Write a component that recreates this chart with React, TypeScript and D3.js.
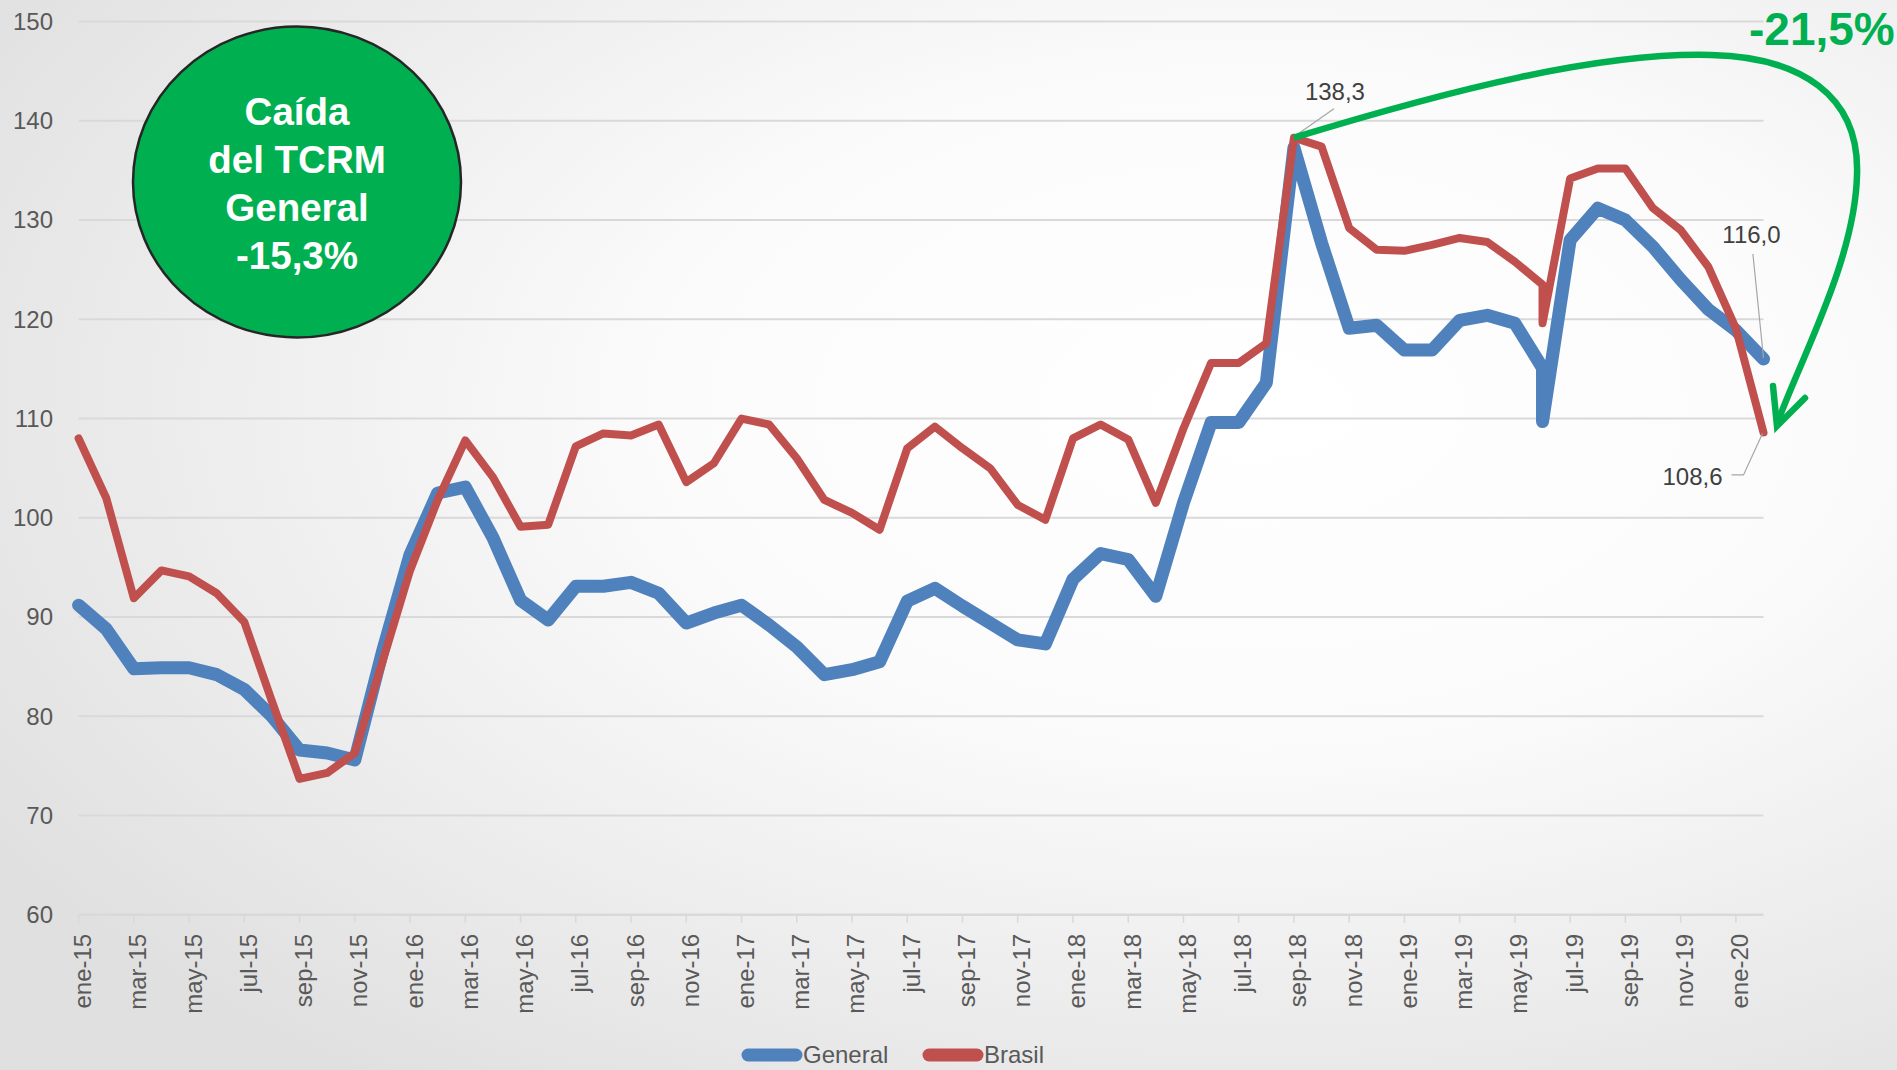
import React from "react";
import * as d3 from "d3";

// meses (etiquetas del eje). jun-19 aparece dos veces en la serie original
const meses = ["ene", "feb", "mar", "abr", "may", "jun", "jul", "ago", "sep", "oct", "nov", "dic"];

const periods = [
  "ene-15", "feb-15", "mar-15", "abr-15", "may-15", "jun-15", "jul-15", "ago-15", "sep-15", "oct-15", "nov-15", "dic-15",
  "ene-16", "feb-16", "mar-16", "abr-16", "may-16", "jun-16", "jul-16", "ago-16", "sep-16", "oct-16", "nov-16", "dic-16",
  "ene-17", "feb-17", "mar-17", "abr-17", "may-17", "jun-17", "jul-17", "ago-17", "sep-17", "oct-17", "nov-17", "dic-17",
  "ene-18", "feb-18", "mar-18", "abr-18", "may-18", "jun-18", "jul-18", "ago-18", "sep-18", "oct-18", "nov-18", "dic-18",
  "ene-19", "feb-19", "mar-19", "abr-19", "may-19", "jun-19", "jun-19", "jul-19", "ago-19", "sep-19", "oct-19", "nov-19", "dic-19",
  "ene-20", "feb-20",
];

const general = [
  91.2, 88.8, 84.8, 84.9, 84.9, 84.2, 82.7, 80.0, 76.6, 76.3, 75.6, 86.5,
  96.3, 102.5, 103.1, 98.0, 91.7, 89.7, 93.1, 93.1, 93.5, 92.4, 89.4, 90.4,
  91.2, 89.2, 87.0, 84.2, 84.7, 85.5, 91.6, 92.9, 91.1, 89.4, 87.7, 87.3,
  93.8, 96.4, 95.8, 92.1, 101.5, 109.6, 109.6, 113.6, 137.3, 127.7, 119.1, 119.4,
  116.9, 116.9, 119.9, 120.4, 119.6, 115.1, 109.7, 128.0, 131.2, 130.0, 127.3, 124.0, 121.0,
  118.9, 116.0,
];

const brasil = [
  108.0, 102.0, 91.9, 94.7, 94.1, 92.4, 89.5, 81.5, 73.7, 74.3, 76.3, 85.5,
  94.7, 101.8, 107.8, 104.1, 99.1, 99.3, 107.2, 108.5, 108.3, 109.4, 103.6, 105.5,
  110.0, 109.4, 106.0, 101.8, 100.5, 98.8, 107.0, 109.2, 107.0, 105.0, 101.3, 99.8,
  108.0, 109.4, 107.9, 101.5, 109.0, 115.6, 115.6, 117.6, 138.3, 137.4, 129.2, 127.0,
  126.9, 127.5, 128.2, 127.8, 125.8, 123.5, 119.6, 134.2, 135.2, 135.2, 131.2, 129.0, 125.3,
  119.1, 108.6,
];

const yTicks = [60, 70, 80, 90, 100, 110, 120, 130, 140, 150];
const seriesNames = ["General", "Brasil"];
const seriesColors = ["#4f81bd", "#c0504d"];

const W = 1897;
const H = 1070;
const font = "'Liberation Sans', Arial, sans-serif";

const monthNum = (p: string) => {
  const [m, yy] = p.split("-");
  return meses.indexOf(m) + (+yy - 15) * 12;
};

const App = () => {
  const x = d3.scaleLinear().domain([0, 61]).range([78.6, 1763.5]);
  const y = d3.scaleLinear().domain([60, 150]).range([914.8, 21.6]);

  const line = d3
    .line<number>()
    .x((_, i) => x(monthNum(periods[i])))
    .y((d) => y(d));

  // etiquetas cada dos meses
  const uniq = periods.filter((p, i) => periods.indexOf(p) === i);
  const xTicks = uniq.filter((p) => monthNum(p) % 2 === 0);

  const iPeak = brasil.indexOf(d3.max(brasil) as number);
  const pk = { x: x(monthNum(periods[iPeak])), y: y(brasil[iPeak]) };
  const last = periods.length - 1;
  const endX = x(monthNum(periods[last]));
  const gEnd = y(general[last]);
  const bEnd = y(brasil[last]);
  const fmt = (v: number) => v.toFixed(1).replace(".", ",");

  return (
    <svg width={W} height={H} style={{ position: "absolute", left: 0, top: 0 }}>
      <defs>
        <radialGradient id="bg" cx="66%" cy="38%" r="78%">
          <stop offset="0%" stopColor="#ffffff" />
          <stop offset="40%" stopColor="#fbfbfb" />
          <stop offset="100%" stopColor="#e0e0e0" />
        </radialGradient>
      </defs>
      <rect width={W} height={H} fill="url(#bg)" />

      {/* rejilla */}
      {yTicks.map((t) => (
        <g key={t}>
          <line x1={x(0)} x2={x(61)} y1={y(t)} y2={y(t)} stroke="#d9d9d9" strokeWidth={t === 60 ? 2.5 : 2} />
          <text x={53} y={y(t)} dy="0.35em" textAnchor="end" fontFamily={font} fontSize={24} fill="#595959">
            {t}
          </text>
        </g>
      ))}

      {/* eje x */}
      {xTicks.map((p) => (
        <g key={p} transform={`translate(${x(monthNum(p))},0)`}>
          <line y1={y(60)} y2={y(60) + 8} stroke="#d9d9d9" strokeWidth={1.5} />
          <text
            transform={`translate(4,${y(60) + 19}) rotate(-90)`}
            textAnchor="end"
            dominantBaseline="central"
            fontFamily={font}
            fontSize={24}
            fill="#595959"
          >
            {p}
          </text>
        </g>
      ))}

      {/* series */}
      <path d={line(general) || ""} fill="none" stroke={seriesColors[0]} strokeWidth={13} strokeLinejoin="round" strokeLinecap="round" />
      <path d={line(brasil) || ""} fill="none" stroke={seriesColors[1]} strokeWidth={8} strokeLinejoin="round" strokeLinecap="round" />

      {/* etiquetas de datos */}
      <polyline points={`${pk.x},${pk.y - 1} ${pk.x + 40},${pk.y - 29}`} fill="none" stroke="#a6a6a6" strokeWidth={1.2} />
      <text x={pk.x + 41} y={pk.y - 37.7} textAnchor="middle" fontFamily={font} fontSize={24} fill="#404040">
        {fmt(brasil[iPeak])}
      </text>
      <polyline points={`${endX - 10.6},${gEnd - 105} ${endX},${gEnd - 1}`} fill="none" stroke="#a6a6a6" strokeWidth={1.2} />
      <text x={endX - 12} y={gEnd - 116} textAnchor="middle" fontFamily={font} fontSize={24} fill="#404040">
        {fmt(general[last])}
      </text>
      <polyline points={`${endX - 32},${bEnd + 42.5} ${endX - 20},${bEnd + 42.5} ${endX - 1},${bEnd + 1}`} fill="none" stroke="#a6a6a6" strokeWidth={1.2} />
      <text x={endX - 71} y={bEnd + 52.5} textAnchor="middle" fontFamily={font} fontSize={24} fill="#404040">
        {fmt(brasil[last])}
      </text>

      {/* flecha verde */}
      <path
        d={`M${pk.x},${pk.y} C1450,90 1600,52 1711,55 C1800,57 1860,95 1857,175 C1855,260 1800,360 1777,424`}
        fill="none"
        stroke="#00b050"
        strokeWidth={6.5}
      />
      <polyline points="1773,386 1777,426 1805,398" fill="none" stroke="#00b050" strokeWidth={6.5} strokeLinecap="round" strokeLinejoin="miter" />
      <text x={1749} y={45} fontFamily={font} fontWeight="bold" fontSize={46} fill="#00b050">
        -21,5%
      </text>

      {/* burbuja */}
      <ellipse cx={297} cy={182} rx={164} ry={155.5} fill="#00b050" stroke="#262626" strokeWidth={2.5} />
      {["Caída", "del TCRM", "General", "-15,3%"].map((s, i) => (
        <text key={s} x={297} y={125 + i * 48} textAnchor="middle" fontFamily={font} fontWeight="bold" fontSize={38.5} fill="#ffffff">
          {s}
        </text>
      ))}

      {/* leyenda */}
      {seriesNames.map((n, i) => {
        const lx = [748, 929][i];
        return (
          <g key={n}>
            <line x1={lx} x2={lx + 48} y1={1055} y2={1055} stroke={seriesColors[i]} strokeWidth={13} strokeLinecap="round" />
            <text x={lx + 55} y={1063} fontFamily={font} fontSize={24} fill="#595959">
              {n}
            </text>
          </g>
        );
      })}
    </svg>
  );
};

export default App;
